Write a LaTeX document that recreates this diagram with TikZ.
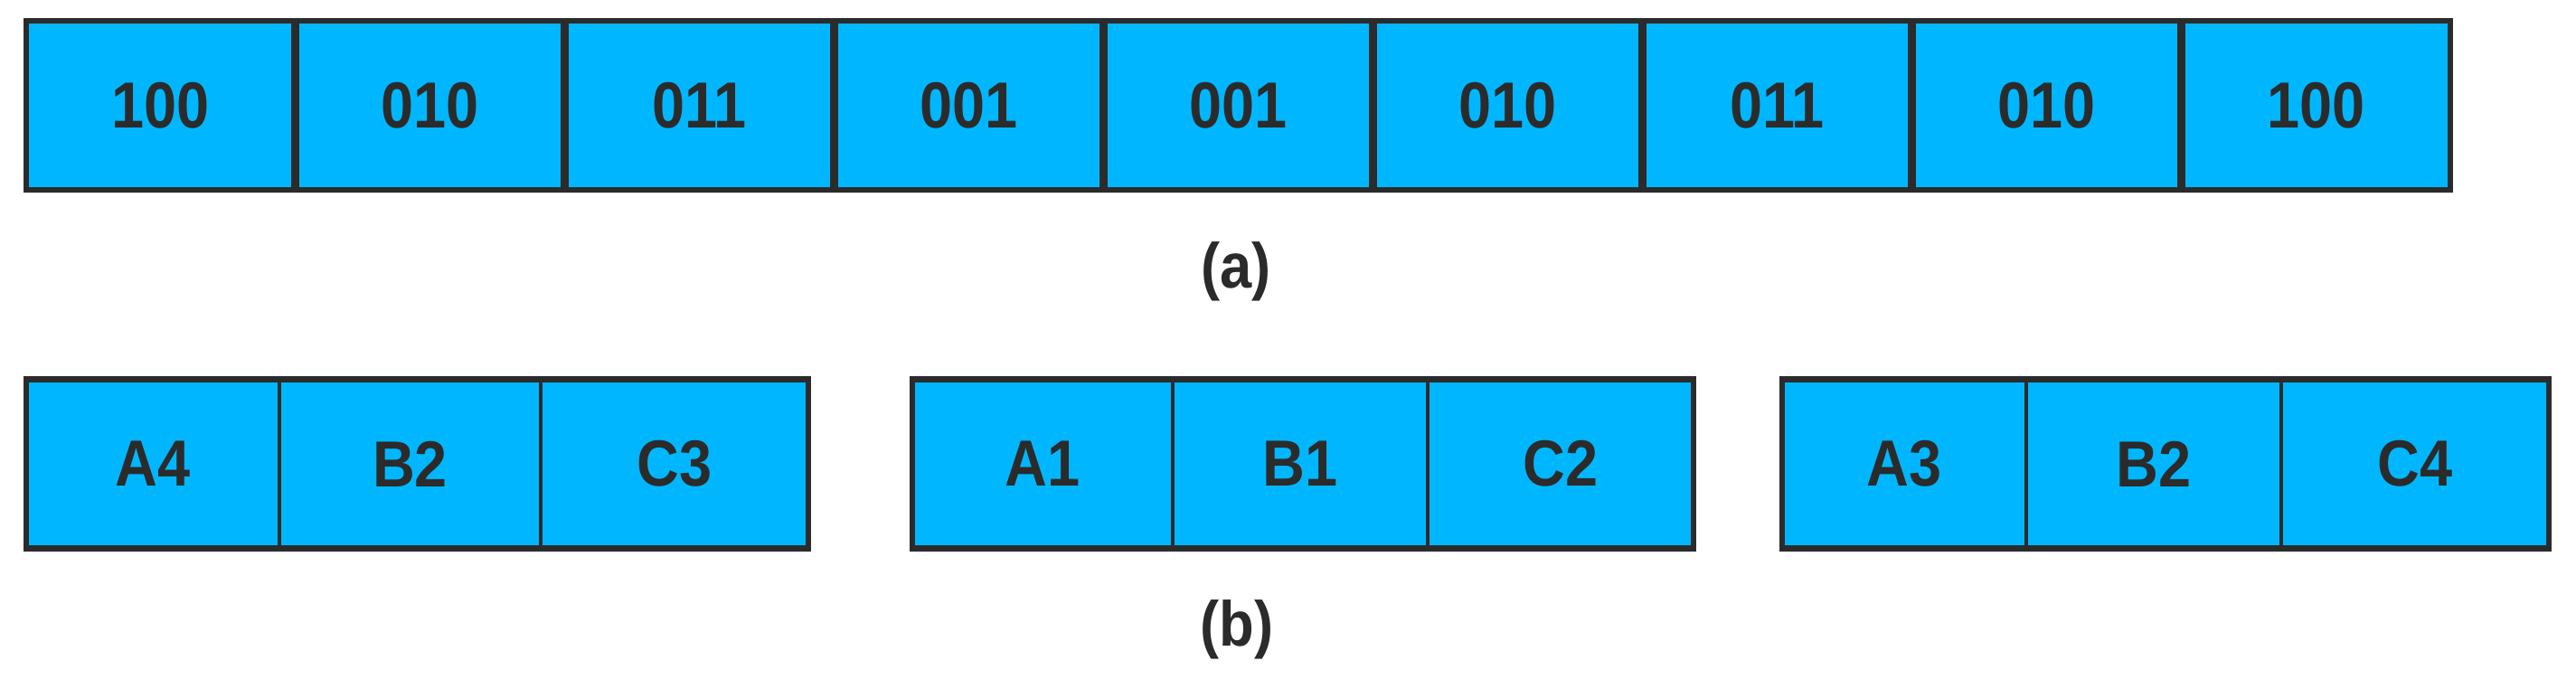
\documentclass[tikz,border=0pt]{standalone}
\usepackage{fontspec}
\newfontfamily\figfont[FakeStretch=0.9]{Liberation Sans}
\usepackage{tikz}
\definecolor{cellblue}{RGB}{0, 183, 255}
\definecolor{edge}{RGB}{43, 43, 43}

\begin{document}
\begin{tikzpicture}[
    cell/.style={fill=cellblue, text=edge, inner sep=0, outer sep=0, minimum height=1.87cm,
                 font=\figfont\bfseries\fontsize{20.5}{24}\selectfont},
    caption/.style={text=edge, inner sep=0, font=\figfont\bfseries\fontsize{20}{24}\selectfont},
    frame/.style={draw=edge, line width=0.065cm},
    topdiv/.style={draw=edge, line width=0.09cm},
    botdiv/.style={draw=edge, line width=0.045cm}]
  \useasboundingbox (0, 0) rectangle (28.49, 7.61);

  % (a) the long row
  \foreach \lbl [count=\i] in {100, 010, 011, 001, 001, 010, 011, 010, 100} {
    \node [cell, minimum width=2.979cm] (t\i) at ({0.29 + 2.979*(\i - 0.5)}, 6.445) {\lbl};
  }
  \foreach \i in {1, ..., 8} {
    \draw [topdiv] (t\i.north east) -- (t\i.south east);
  }
  \draw [frame] (t1.north west) rectangle (t9.south east);
  \node [caption] (capa) at (13.67, 4.61) {(a)};

  % (b) three groups
  \foreach \xa/\xb/\lbl [count=\i] in {0.29/3.09/A4, 3.09/5.98/B2, 5.98/8.94/C3,
                                      10.09/12.97/A1, 12.97/15.79/B1, 15.79/18.73/C2,
                                      19.71/22.41/A3, 22.41/25.23/B2, 25.23/28.19/C4} {
    \node [cell, minimum width={(\xb - \xa)*1cm}] (b\i) at ({(\xa + \xb)/2}, 2.48) {\lbl};
  }
  \foreach \i in {1, 2, 4, 5, 7, 8} {
    \draw [botdiv] (b\i.north east) -- (b\i.south east);
  }
  \foreach \i/\j in {1/3, 4/6, 7/9} {
    \draw [frame] (b\i.north west) rectangle (b\j.south east);
  }
  \node [caption] (capb) at (13.68, 0.65) {(b)};

\end{tikzpicture}
\end{document}
